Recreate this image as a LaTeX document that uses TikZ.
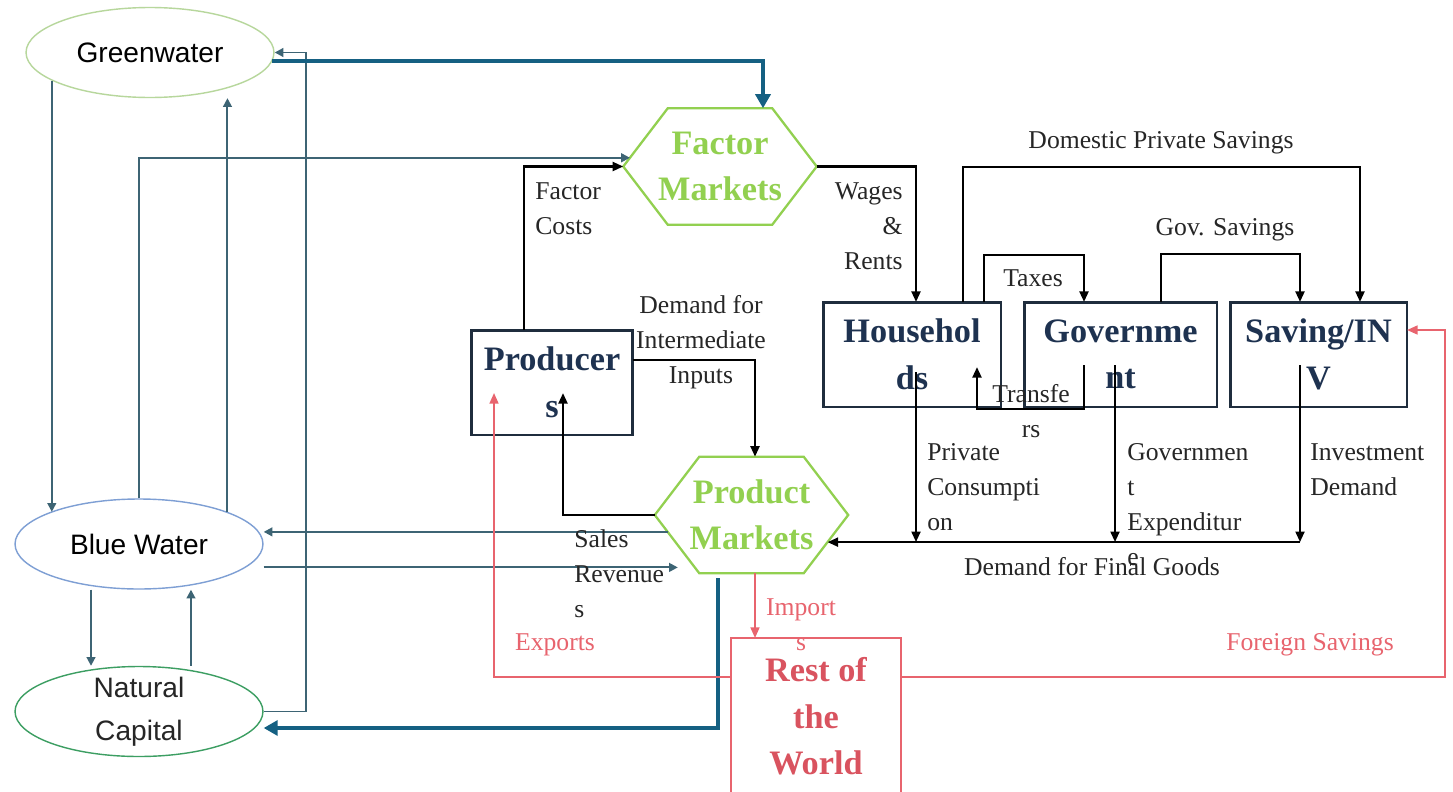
\documentclass[tikz,border=0pt]{standalone}
\usepackage{fontspec}
\setmainfont{Liberation Serif}
\newfontfamily\ellfont{Liberation Sans}
\usetikzlibrary{shapes.geometric,arrows.meta,calc}

\definecolor{tealgrey}{HTML}{3D6474}
\definecolor{deepblue}{HTML}{156082}
\definecolor{boxnavy}{HTML}{1F2D3D}
\definecolor{boxtext}{HTML}{1E3250}
\definecolor{limegreen}{HTML}{92D050}
\definecolor{rowred}{HTML}{E8646E}
\definecolor{rowtext}{HTML}{D9535F}
\definecolor{gwgreen}{HTML}{B7D79C}
\definecolor{bwblue}{HTML}{7E9FD4}
\definecolor{ncgreen}{HTML}{3C9E62}
\definecolor{lbltext}{HTML}{262626}

\tikzset{
  ell/.style={ellipse, minimum width=4.96cm, minimum height=1.8cm, line width=0.8pt, inner sep=0pt, font=\ellfont\fontsize{16}{24.4}\selectfont},
  elltext/.style={font=\ellfont\fontsize{16}{24.4}\selectfont, align=center, text=lbltext},
  sector/.style={rectangle, draw=boxnavy, line width=1.7pt, text=boxtext, font=\bfseries\fontsize{19.5}{26.5}\selectfont, align=center, minimum height=2.1cm, inner sep=0pt, outer sep=0pt},
  market/.style={rectangle, outer sep=0pt, inner sep=0pt, minimum width=3.87cm, minimum height=2.33cm, text=limegreen, font=\bfseries\fontsize{19.5}{26}\selectfont, align=center},
  hexline/.style={draw=limegreen, line width=1.3pt},
  lbl/.style={font=\fontsize{14.6}{19.8}\selectfont, text=lbltext, inner sep=0pt},
  rlbl/.style={lbl, text=rowred},
  flow/.style={draw=black, line width=1.4pt, -{Triangle[length=6pt,width=5pt]}},
  water/.style={draw=tealgrey, line width=1.1pt, -{Triangle[length=5pt,width=5pt]}},
  bigflow/.style={draw=deepblue, line width=2.3pt, -{Triangle[length=8pt,width=8.5pt]}},
  trade/.style={draw=rowred, line width=1.1pt, -{Triangle[length=6pt,width=5pt]}}
}

% hexagon round a market node
\newcommand{\hexframe}[1]{%
  \coordinate (#1TL) at ([xshift=0.89cm]#1.north west);
  \coordinate (#1TR) at ([xshift=-0.89cm]#1.north east);
  \coordinate (#1BR) at ([xshift=-0.89cm]#1.south east);
  \coordinate (#1BL) at ([xshift=0.89cm]#1.south west);
  \draw[hexline] (#1.west) -- (#1TL) -- (#1TR) -- (#1.east) -- (#1BR) -- (#1BL) -- cycle;}

\begin{document}
\begin{tikzpicture}[x=0.02cm,y=-0.02cm]
\path[use as bounding box, fill=white] (0,0) rectangle (1453,791);

% water side
\node[ell, draw=gwgreen] (green) at (150,52.5) {Greenwater};
\node[ell, draw=bwblue] (blue) at (139,544) {Blue Water};
\node[ell, draw=ncgreen, label={[elltext]center:Natural\\Capital}] (natcap) at (139,711.5) {};

% economy
\node[market] (fm) at (720,166.5) {Factor\\Markets};
\hexframe{fm}
\node[market] (pm) at (751.5,515) {Product\\Markets};
\hexframe{pm}
\node[sector, minimum width=3.24cm] (prod) at (552,382.5) {Producer\\s};
\node[sector, minimum width=3.56cm] (hh) at (912,354.5) {Househol\\ds};
\node[sector, minimum width=3.86cm] (gov) at (1120.5,354.5) {Governme\\nt};
\node[sector, minimum width=3.54cm] (sav) at (1318.5,354.5) {Saving/IN\\V};
\node[sector, draw=rowred, line width=1.2pt, text=rowtext, minimum width=3.4cm, minimum height=3.14cm] (row) at (816,716.5) {Rest of\\the\\World};

% water links
\draw[water] (green.196) -- (green.196 |- blue.160);
\draw[water] (blue.north) |- ($(fm.west)!0.15!(fmTL)$);
\draw[water] (blue.20) -- (blue.20 |- green.south);
\draw[water] (natcap.east) -- ++(42,0) |- (green.east);
\draw[water] ([xshift=-0.96cm]blue.south) -- ([xshift=-0.96cm]natcap.north);
\draw[water] ([xshift=1.04cm]natcap.north) -- ([xshift=1.04cm]blue.south);
\coordinate (bwout) at ($(pm.west)!0.29!(pmBL)$);
\draw[water] (bwout) -- (bwout -| blue.east);
\coordinate (bwin) at ([xshift=-0.34cm]$(pm.west)!0.9!(pmBL)$);
\draw[water] (bwin -| blue.east) -- (bwin);
\draw[bigflow] (green.-4) -| ([xshift=0.86cm]fm.north);
\draw[bigflow] ([shift={(-0.67cm,-0.1cm)}]pm.south) |- ([yshift=-0.33cm]natcap.east);

% money flows
\draw[flow] ([xshift=-0.56cm]prod.north) |- (fm.west);
\draw[flow] (fm.east) -| ([xshift=0.08cm]hh.north);
\draw[flow] ([xshift=1.02cm]hh.north) -- ++(0,-135) -| ([xshift=0.83cm]sav.north);
\draw[flow] ([xshift=1.44cm]hh.north) -- ++(0,-47) -| ([xshift=-0.73cm]gov.north);
\draw[flow] ([xshift=0.81cm]gov.north) -- ++(0,-48) -| ([xshift=-0.37cm]sav.north);
\coordinate (trout) at ([shift={(-0.73cm,-0.21cm)}]gov.center);
\coordinate (trin) at ([shift={(1.3cm,-0.25cm)}]hh.center);
\draw[flow] (trout) -- ++(0,44) -| (trin);
\draw[flow] ([yshift=0.45cm]prod.east) -| ([xshift=0.07cm]pm.north);
\coordinate (srin) at ([shift={(0.22cm,-0.21cm)}]prod.center);
\draw[flow] (pm.west) -| (srin);
\coordinate (fdin) at ($(pm.east)!0.466!(pmBR)$);
\coordinate (pcout) at ([shift={(0.08cm,-0.35cm)}]hh.center);
\coordinate (geout) at ([shift={(-0.11cm,-0.21cm)}]gov.center);
\coordinate (idout) at ([shift={(-0.37cm,-0.21cm)}]sav.center);
\draw[flow] (pcout) -- (pcout |- fdin);
\draw[flow] (geout) -- (geout |- fdin);
\draw[flow] (idout) -- (idout |- fdin);
\draw[flow] (idout |- fdin) -- (fdin);

% trade
\coordinate (imout) at ([xshift=0.07cm]pm.south);
\draw[trade] (imout) -- (imout |- row.north);
\draw[trade] ([yshift=0.79cm]row.west) -| ([shift={(-1.16cm,-0.21cm)}]prod.center);
\draw[trade] ([yshift=0.79cm]row.east) -- ++(544,0) |- ([yshift=0.49cm]sav.east);

% labels
\node[lbl, anchor=west, align=left] (fclbl) at (535,208.5) {Factor\\Costs};
\node[lbl, anchor=east, align=right] (wrlbl) at (903,226) {Wages\\\&\\Rents};
\node[lbl] (dpslbl) at (1161,143) {Domestic Private Savings};
\node[lbl] (gslbl) at (1225,230) {Gov. Savings};
\node[lbl] (txlbl) at (1033,278) {Taxes};
\node[lbl, align=center] (trlbl) at (1031,411) {Transfe\\rs};
\node[lbl, align=center] (dilbl) at (701,342) {Demand for\\Intermediate\\Inputs};
\node[lbl, anchor=west, align=left] (pclbl) at (927,487) {Private\\Consumpti\\on};
\node[lbl, anchor=west, align=left] (gelbl) at (1127,504.5) {Governmen\\t\\Expenditur\\e};
\node[lbl, anchor=west, align=left] (idlbl) at (1310,469.5) {Investment\\Demand};
\node[lbl] (fglbl) at (1092,567) {Demand for Final Goods};
\node[lbl, anchor=west, align=left] (srlbl) at (574,573.5) {Sales\\Revenue\\s};
\node[rlbl] (exlbl) at (555,645) {Exports};
\node[rlbl, align=center] (imlbl) at (801,625) {Import\\s};
\node[rlbl] (fslbl) at (1310,645) {Foreign Savings};
\end{tikzpicture}
\end{document}
